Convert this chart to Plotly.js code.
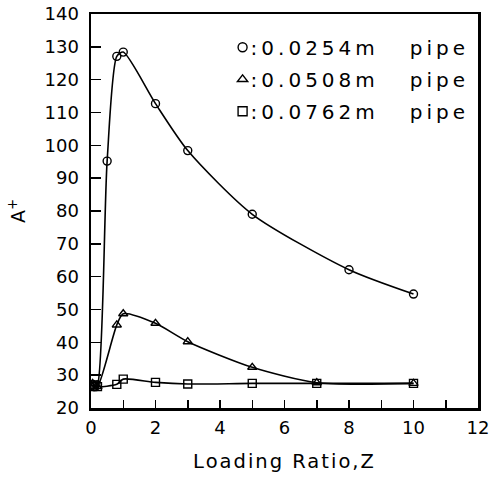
<!DOCTYPE html>
<html>
<head>
<meta charset="utf-8">
<script src="https://cdn.plot.ly/plotly-3.0.1.min.js"></script>
<style>
html,body{margin:0;padding:0;background:#fff;}
#chart{width:491px;height:477px;}
.legendtext{letter-spacing:4px;}
.legendpoints{transform:translateX(12px);}
.xtitle{letter-spacing:2px;}
</style>
</head>
<body>
<div id="chart"></div>
<script>
// Loading ratio Z and A+ values
const zPipe1 = [0.05, 0.1, 0.2, 0.5, 0.8, 1, 2, 3, 5, 8, 10];
const aPipe1 = [27, 26.5, 27, 95.2, 127.1, 128.4, 112.7, 98.4, 79, 62.1, 54.7];
const zPipe2 = [0.05, 0.1, 0.2, 0.8, 1, 2, 3, 5, 7, 10];
const aPipe2 = [27.5, 27, 26.5, 45.3, 48.7, 45.8, 40.2, 32.4, 27.7, 27.5];
const zPipe3 = [0.05, 0.1, 0.2, 0.8, 1, 2, 3, 5, 7, 10];
const aPipe3 = [26.5, 27, 26.5, 27.2, 28.8, 27.8, 27.3, 27.5, 27.5, 27.5];
const seriesNames = [':0.0254m\u00A0\u00A0\u00A0pipe', ':0.0508m\u00A0\u00A0\u00A0pipe', ':0.0762m\u00A0\u00A0\u00A0pipe'];
const symbols = ['circle-open', 'triangle-up-open', 'square-open'];
const xTickVals = [0, 2, 4, 6, 8, 10, 12];
const yTickVals = [20, 30, 40, 50, 60, 70, 80, 90, 100, 110, 120, 130, 140];

const FONT = 'DejaVu Sans, sans-serif';
const xs = [zPipe1, zPipe2, zPipe3];
const ys = [aPipe1, aPipe2, aPipe3];
const traces = [];
for (let i = 0; i < 3; i++) {
  traces.push({
    x: xs[i], y: ys[i], type: 'scatter', mode: 'lines+markers',
    line: {color: '#000', width: 1.6, shape: 'spline', smoothing: 0.7},
    marker: {symbol: symbols[i], size: 8, color: '#000', line: {width: 1.4, color: '#000'}},
    showlegend: false, hoverinfo: 'skip'
  });
}
for (let i = 0; i < 3; i++) {
  traces.push({
    x: [null], y: [null], type: 'scatter', mode: 'markers', name: seriesNames[i],
    legendgroup: 'g' + i,
    marker: {symbol: symbols[i], size: 9, color: '#000', line: {width: 1.4, color: '#000'}},
    showlegend: true
  });
}

const layout = {
  width: 491, height: 477,
  margin: {l: 91, r: 13, t: 14, b: 69},
  paper_bgcolor: '#fff', plot_bgcolor: '#fff',
  font: {family: FONT, size: 18, color: '#000'},
  showlegend: true,
  legend: {x: 0.309, y: 0.965, xanchor: 'left', yanchor: 'top', bgcolor: 'rgba(0,0,0,0)',
           font: {family: FONT, size: 20, color: '#000'}, tracegroupgap: 3, itemwidth: 30},
  xaxis: {
    range: [0, 12], tickvals: xTickVals, ticks: 'inside', ticklen: 8, tickwidth: 1.5, tickcolor: '#000',
    minor: {dtick: 1, ticks: 'inside', ticklen: 8, tickwidth: 1.5, tickcolor: '#000'},
    showgrid: false, zeroline: false, showline: true, linewidth: 2.5, linecolor: '#000', mirror: true,
    tickfont: {family: FONT, size: 18}, ticklabelstandoff: 2,
    title: {text: 'Loading Ratio,Z', font: {family: FONT, size: 19.5}, standoff: 18}
  },
  yaxis: {
    range: [20, 140], tickvals: yTickVals, ticks: 'inside', ticklen: 10, tickwidth: 1.5, tickcolor: '#000',
    showgrid: false, zeroline: false, showline: true, linewidth: 2.5, linecolor: '#000', mirror: true,
    tickfont: {family: FONT, size: 18}, ticklabelstandoff: 6,
    title: {text: 'A<sup>+</sup>', font: {family: FONT, size: 19}, standoff: 14}
  }
};
Plotly.newPlot('chart', traces, layout, {displayModeBar: false, staticPlot: true});
</script>
</body>
</html>
